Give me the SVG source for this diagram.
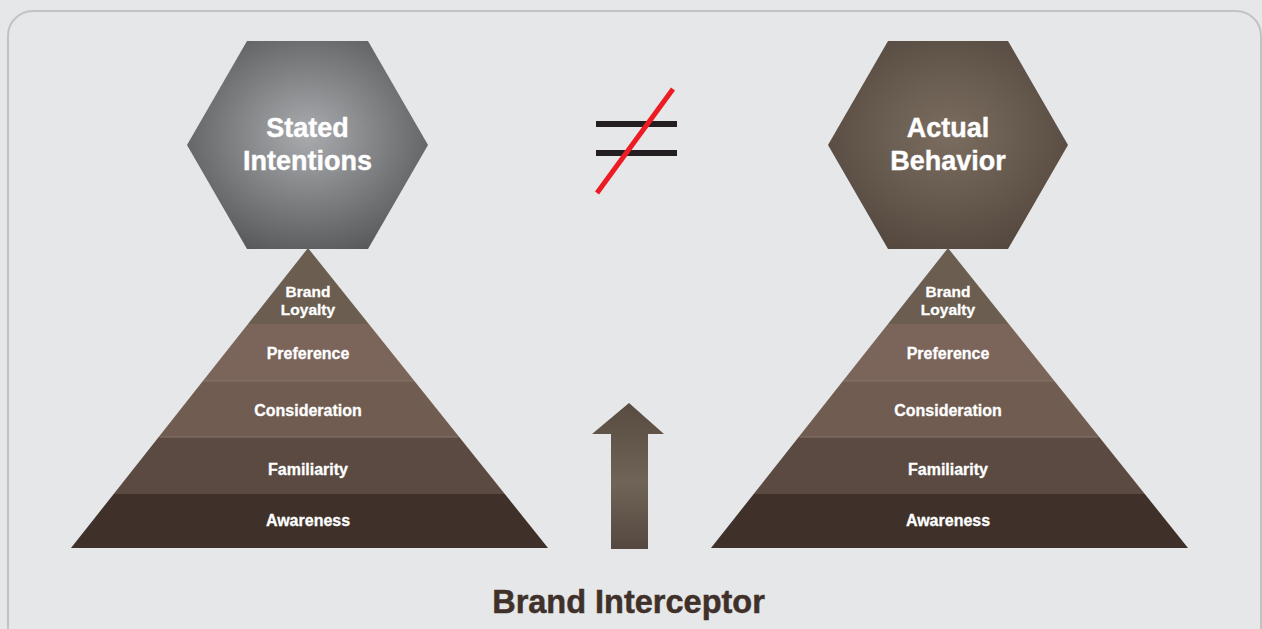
<svg xmlns="http://www.w3.org/2000/svg" width="1262" height="629" viewBox="0 0 1262 629">
<defs>
<radialGradient id="gGray" cx="50%" cy="45%" r="60%">
<stop offset="0" stop-color="#a9abae"/>
<stop offset="1" stop-color="#58595b"/>
</radialGradient>
<radialGradient id="gBrown" cx="50%" cy="45%" r="60%">
<stop offset="0" stop-color="#7b6e60"/>
<stop offset="1" stop-color="#54473e"/>
</radialGradient>
<linearGradient id="gArrow" x1="0" y1="0" x2="0" y2="1">
<stop offset="0" stop-color="#584b41"/>
<stop offset="0.55" stop-color="#6f6457"/>
<stop offset="1" stop-color="#554840"/>
</linearGradient>
<style>
.hexT{font-family:"Liberation Sans",Arial,sans-serif;font-weight:bold;font-size:27px;fill:#ffffff;stroke:#ffffff;stroke-width:0.4;text-anchor:middle}
.pyT{font-family:"Liberation Sans",Arial,sans-serif;font-weight:bold;font-size:16px;fill:#ffffff;stroke:#ffffff;stroke-width:0.3;text-anchor:middle}
.pyT2{font-family:"Liberation Sans",Arial,sans-serif;font-weight:bold;font-size:15.5px;fill:#ffffff;stroke:#ffffff;stroke-width:0.3;text-anchor:middle}
.b1{fill:#6b5e51}
.b2{fill:#7b645a}
.b3{fill:#705c51}
.b4{fill:#5a4a41}
.b5{fill:#3f312a}
.sep{stroke:#86756b;stroke-width:1}
</style>
</defs>
<rect x="0" y="0" width="1262" height="629" fill="#e6e7e8"/>
<rect x="8" y="11" width="1253" height="660" rx="25" ry="25" fill="#e6e7e8" stroke="#c1c2c4" stroke-width="2"/>

<g id="hex-stated">
<polygon points="247,41 368,41 428,145 368,249 247,249 187,145" fill="url(#gGray)"/>
<text class="hexT" x="307.5" y="137">Stated</text>
<text class="hexT" x="307.5" y="170">Intentions</text>
</g>

<g id="hex-actual">
<polygon points="888,41 1008,41 1068,145 1008,249 888,249 828,145" fill="url(#gBrown)"/>
<text class="hexT" x="948" y="137">Actual</text>
<text class="hexT" x="948" y="170">Behavior</text>
</g>

<g id="pyramid-left">
<polygon class="b1" points="308,248 368.8,324 248,324"/>
<polygon class="b2" points="248,324 368.8,324 414.4,381 202.9,381"/>
<polygon class="b3" points="202.9,381 414.4,381 459.2,437 158.7,437"/>
<polygon class="b4" points="158.7,437 459.2,437 504.8,494 113.7,494"/>
<polygon class="b5" points="113.7,494 504.8,494 548,548 71,548"/>
<line class="sep" x1="203.5" y1="381" x2="413.8" y2="381"/>
<line class="sep" x1="159.3" y1="437" x2="458.6" y2="437"/>
<text class="pyT2" x="308" y="297">Brand</text>
<text class="pyT2" x="308" y="315">Loyalty</text>
<text class="pyT" x="308" y="359">Preference</text>
<text class="pyT" x="308" y="416">Consideration</text>
<text class="pyT" x="308" y="475">Familiarity</text>
<text class="pyT" x="308" y="526">Awareness</text>
</g>

<g id="pyramid-right" transform="translate(640,0)">
<polygon class="b1" points="308,248 368.8,324 248,324"/>
<polygon class="b2" points="248,324 368.8,324 414.4,381 202.9,381"/>
<polygon class="b3" points="202.9,381 414.4,381 459.2,437 158.7,437"/>
<polygon class="b4" points="158.7,437 459.2,437 504.8,494 113.7,494"/>
<polygon class="b5" points="113.7,494 504.8,494 548,548 71,548"/>
<line class="sep" x1="203.5" y1="381" x2="413.8" y2="381"/>
<line class="sep" x1="159.3" y1="437" x2="458.6" y2="437"/>
<text class="pyT2" x="308" y="297">Brand</text>
<text class="pyT2" x="308" y="315">Loyalty</text>
<text class="pyT" x="308" y="359">Preference</text>
<text class="pyT" x="308" y="416">Consideration</text>
<text class="pyT" x="308" y="475">Familiarity</text>
<text class="pyT" x="308" y="526">Awareness</text>
</g>

<g id="not-equal">
<rect x="596" y="121" width="81" height="6" fill="#231f20"/>
<rect x="596" y="150" width="81" height="6" fill="#231f20"/>
<line x1="597" y1="193" x2="673" y2="89" stroke="#ed1c24" stroke-width="5"/>
</g>

<g id="connectors">
<polygon id="arrow-up" points="629,403 664,434 648,434 648,549 611,549 611,434 592,434" fill="url(#gArrow)"/>
</g>

<g id="label-interceptor">
<text x="628.5" y="613" font-family="Liberation Sans, Arial, sans-serif" font-weight="bold" font-size="32.5" fill="#3f312a" stroke="#3f312a" stroke-width="0.5" text-anchor="middle">Brand Interceptor</text>
</g>
</svg>
